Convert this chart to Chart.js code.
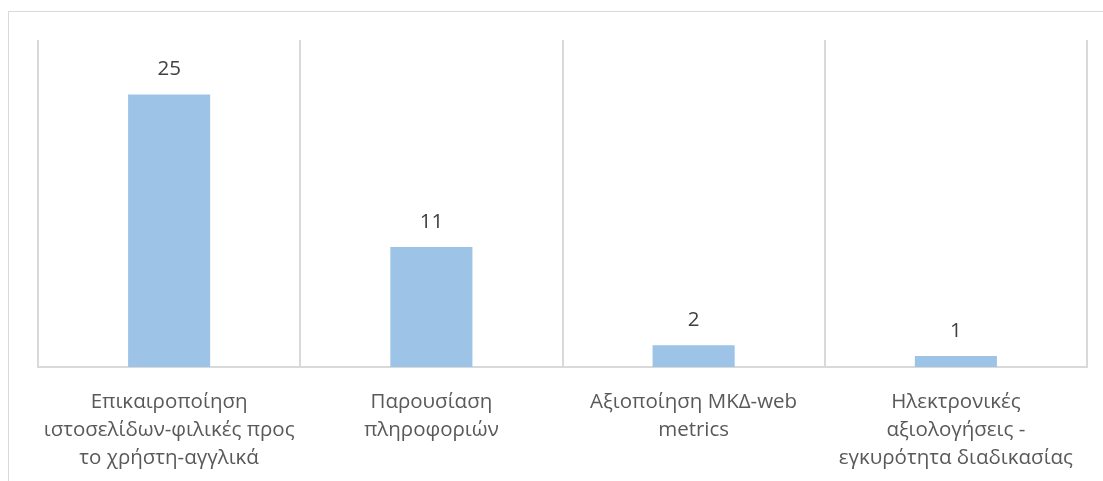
<!DOCTYPE html>
<html><head><meta charset="utf-8">
<script src="https://cdn.jsdelivr.net/npm/chart.js@4"></script>
<style>
html,body{margin:0;padding:0;background:#fff;overflow:hidden}
#frame{position:absolute;left:8px;top:11px;width:1120px;height:500px;border:1px solid #d9d9d9;box-sizing:border-box}
#wrap{position:absolute;left:0;top:0;width:1103px;height:481px}
</style></head>
<body>
<div id="frame"></div>
<div id="wrap"><canvas id="c" width="1103" height="481"></canvas></div>
<script>
const categories = [
  ["Επικαιροποίηση", "ιστοσελίδων-φιλικές προς", "το χρήστη-αγγλικά"],
  ["Παρουσίαση", "πληροφοριών"],
  ["Αξιοποίηση ΜΚΔ-web", "metrics"],
  ["Ηλεκτρονικές", "αξιολογήσεις -", "εγκυρότητα διαδικασίας"]
];
const values = [25, 11, 2, 1];
const yMin = 0, yMax = 30;

const FONT = "'Open Sans', 'Noto Sans', sans-serif";

const valueLabels = {
  id: 'valueLabels',
  afterDatasetsDraw(chart) {
    const ctx = chart.ctx;
    const meta = chart.getDatasetMeta(0);
    ctx.save();
    ctx.font = "20.5px " + FONT;
    ctx.fillStyle = '#404040';
    ctx.textAlign = 'center';
    ctx.textBaseline = 'middle';
    meta.data.forEach((bar, i) => {
      ctx.fillText(String(values[i]), bar.x, bar.y - 25);
    });
    ctx.restore();
  }
};

new Chart(document.getElementById('c'), {
  type: 'bar',
  data: {
    labels: categories,
    datasets: [{
      data: values,
      backgroundColor: '#9dc3e6',
      borderWidth: 0,
      categoryPercentage: 1,
      barPercentage: 0.313
    }]
  },
  options: {
    responsive: false,
    animation: false,
    devicePixelRatio: 1,
    layout: { padding: { left: 38, right: 16, top: 40, bottom: 0 } },
    plugins: { legend: { display: false }, tooltip: { enabled: false } },
    scales: {
      x: {
        grid: { display: true, color: '#d9d9d9', lineWidth: 2, drawTicks: false, offset: true },
        border: { display: true, color: '#d9d9d9', width: 2 },
        ticks: {
          color: '#595959',
          font: { family: FONT, size: 20.5, lineHeight: 1.366 },
          padding: 21,
          maxRotation: 0,
          autoSkip: false
        },
        afterFit(scale) { scale.height = 114; }
      },
      y: {
        display: false,
        min: yMin,
        max: yMax
      }
    }
  },
  plugins: [valueLabels]
});
</script>
</body></html>
